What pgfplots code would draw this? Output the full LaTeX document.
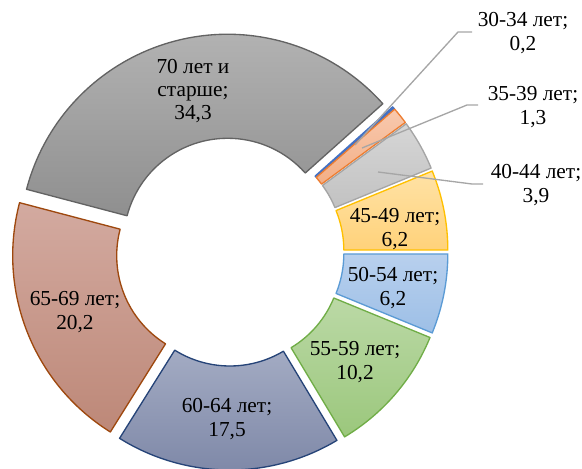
\documentclass[border=0pt]{standalone}
\usepackage{fontspec}
\setmainfont{Liberation Serif}
\usepackage{pgfplots}
\pgfplotsset{compat=1.18}

\definecolor{b1}{HTML}{4472C4}
\definecolor{o1t}{HTML}{F8C9AE}\definecolor{o1b}{HTML}{F3AE85}\definecolor{o1}{HTML}{ED7D31}
\definecolor{g1t}{HTML}{D6D6D6}\definecolor{g1b}{HTML}{C2C2C2}\definecolor{g1}{HTML}{A5A5A5}
\definecolor{y1t}{HTML}{FFE2A6}\definecolor{y1b}{HTML}{FFD27A}\definecolor{y1}{HTML}{FFC000}
\definecolor{l1t}{HTML}{B8D0EE}\definecolor{l1b}{HTML}{9DBFE6}\definecolor{l1}{HTML}{5B9BD5}
\definecolor{n1t}{HTML}{BBD9A6}\definecolor{n1b}{HTML}{9BC77C}\definecolor{n1}{HTML}{70AD47}
\definecolor{s1t}{HTML}{A3ABC3}\definecolor{s1b}{HTML}{7C86A6}\definecolor{s1}{HTML}{264478}
\definecolor{r1t}{HTML}{D3AAA0}\definecolor{r1b}{HTML}{BD8878}\definecolor{r1}{HTML}{9E480E}
\definecolor{a1t}{HTML}{B6B6B6}\definecolor{a1b}{HTML}{8F8F8F}\definecolor{a1}{HTML}{636363}
\definecolor{lead}{HTML}{A6A6A6}

% geometry in pixels (1px = 0.75pt)
\def\CX{230}\def\CY{216}\def\RO{208}\def\RI{104}\def\DX{10}\def\THz{41.76}
\xdef\cum{0}
% #1 value (%), #2 top colour, #3 bottom colour, #4 border colour
\newcommand\slice[4]{%
  \pgfmathsetmacro\aS{\THz-3.6*\cum}%
  \pgfmathsetmacro\aE{\THz-3.6*(\cum+#1)}%
  \pgfmathsetmacro\aM{(\aS+\aE)/2}%
  \pgfmathsetmacro\ox{\CX+\DX*cos(\aM)}%
  \pgfmathsetmacro\oy{\CY+\DX*sin(\aM)}%
  \pgfmathsetmacro\pxA{\ox+\RO*cos(\aS)}%
  \pgfmathsetmacro\pyA{\oy+\RO*sin(\aS)}%
  \pgfmathsetmacro\pxB{\ox+\RI*cos(\aE)}%
  \pgfmathsetmacro\pyB{\oy+\RI*sin(\aE)}%
  \pgfmathsetmacro\ROpt{0.75*\RO}%
  \pgfmathsetmacro\RIpt{0.75*\RI}%
  \edef\tmp{\noexpand\draw[line width=1pt, line join=round, draw=#4, top color=#2, bottom color=#3]
    (axis cs:\pxA,\pyA) arc[start angle=\aS, end angle=\aE, radius=\ROpt pt]
    -- (axis cs:\pxB,\pyB) arc[start angle=\aE, end angle=\aS, radius=\RIpt pt] -- cycle;}%
  \tmp
  \pgfmathsetmacro\newcum{\cum+#1}%
  \xdef\cum{\newcum}%
}

\begin{document}
\begin{tikzpicture}
\useasboundingbox (0,0) rectangle (436.5pt,351pt);
\begin{axis}[
  x=0.75pt, y=0.75pt,
  xmin=0, xmax=582, ymin=0, ymax=468,
  hide axis, clip=false, scale only axis,
]
\slice{0.2}{b1}{b1}{b1}
\slice{1.3}{o1t}{o1b}{o1}
\slice{3.9}{g1t}{g1b}{g1}
\slice{6.2}{y1t}{y1b}{y1}
\slice{6.2}{l1t}{l1b}{l1}
\slice{10.2}{n1t}{n1b}{n1}
\slice{17.5}{s1t}{s1b}{s1}
\slice{20.2}{r1t}{r1b}{r1}
\slice{34.3}{a1t}{a1b}{a1}

% leader lines
\draw[lead, line width=1pt] (axis cs:355,323) -- (axis cs:458,436) -- (axis cs:472,436);
\draw[lead, line width=1pt] (axis cs:362,320) -- (axis cs:467,363) -- (axis cs:478,363);
\draw[lead, line width=1pt] (axis cs:378,296) -- (axis cs:472,284) -- (axis cs:483,284);

\tikzset{lbl/.style={align=center, inner sep=0pt, font=\fontsize{16}{17.5}\selectfont}}
\node[lbl] at (axis cs:193,377) {70 лет и\\старше;\\34,3};
\node[lbl] at (axis cs:75,156) {65-69 лет;\\20,2};
\node[lbl] at (axis cs:227,49) {60-64 лет;\\17,5};
\node[lbl] at (axis cs:355,106) {55-59 лет;\\10,2};
\node[lbl] at (axis cs:393,180) {50-54 лет;\\6,2};
\node[lbl] at (axis cs:395,239) {45-49 лет;\\6,2};
\node[lbl] at (axis cs:536,283) {40-44 лет;\\3,9};
\node[lbl] at (axis cs:533,361) {35-39 лет;\\1,3};
\node[lbl] at (axis cs:523,435) {30-34 лет;\\0,2};
\end{axis}
\end{tikzpicture}
\end{document}
